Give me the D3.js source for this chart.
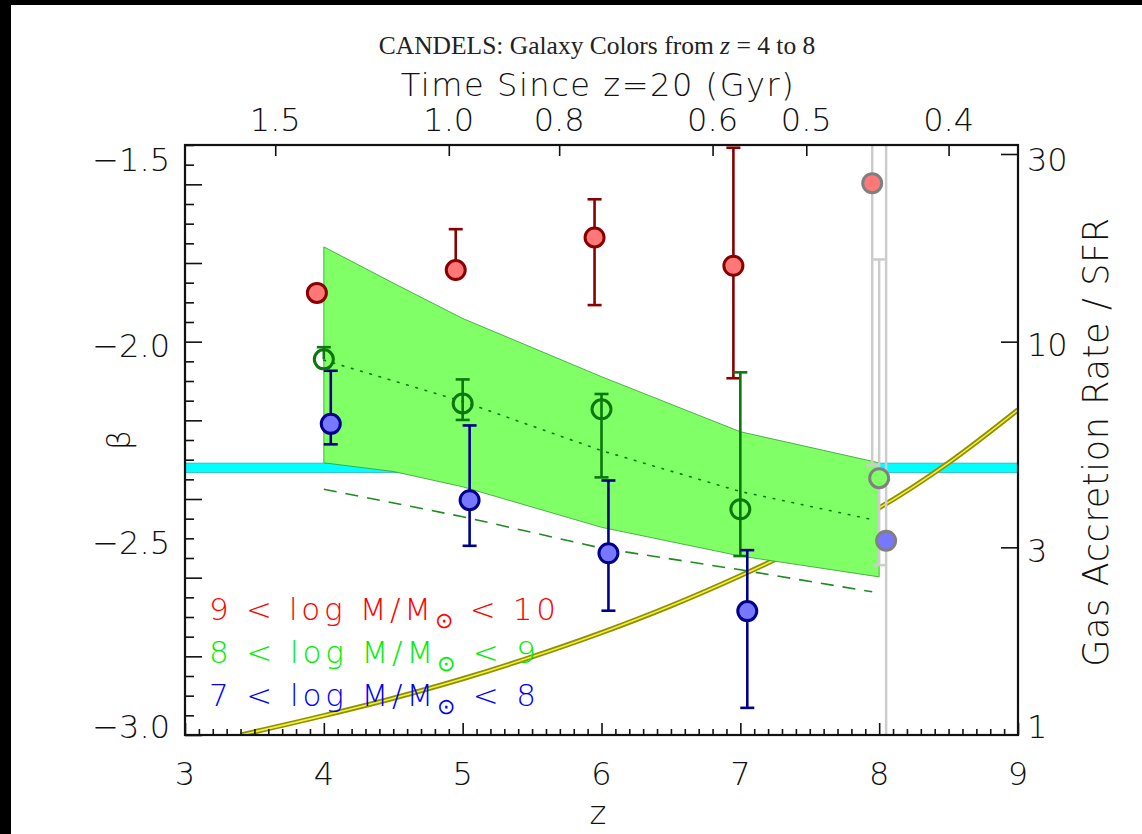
<!DOCTYPE html>
<html>
<head>
<meta charset="utf-8">
<script src="https://cdn.jsdelivr.net/npm/d3@7"></script>
<style>
  html, body { margin: 0; padding: 0; background: #000; }
  svg { display: block; }
  .lbl { font-family: "DejaVu Sans", "Open Sans", sans-serif; font-weight: 200; fill: #111; }
</style>
</head>
<body>
<svg id="chart" width="1142" height="834"></svg>
<script>
// ---- measurements: UV slope beta vs redshift in three stellar-mass bins ----
const zRed   = [3.95, 4.95, 5.95, 6.95];
const betaRed = [-1.876, -1.818, -1.735, -1.807];
const hiRed   = [-1.876, -1.714, -1.638, -1.507];
const loRed   = [-1.876, -1.818, -1.907, -2.093];

const zGreen   = [4.0, 5.0, 6.0, 7.0];
const betaGreen = [-2.045, -2.157, -2.172, -2.426];
const hiGreen   = [-2.014, -2.096, -2.133, -2.078];
const loGreen   = [-2.045, -2.199, -2.345, -2.545];

const zBlue   = [4.05, 5.05, 6.05, 7.05];
const betaBlue = [-2.209, -2.403, -2.538, -2.685];
const hiBlue   = [-2.074, -2.213, -2.353, -2.530];
const loBlue   = [-2.261, -2.519, -2.684, -2.931];

// z ~ 8 points (weakly constrained, grey outlines)
const zHigh    = [7.95, 8.0, 8.05];
const betaHigh = [-1.597, -2.347, -2.506];
const hiHigh   = [-1.30, -1.791, -1.20];
const loHigh   = [-2.314, -2.568, -3.30];

// model envelope (shaded) and model tracks
const bandZ     = [4.0, 4.5, 5.0, 6.0, 7.0, 8.0];
const bandUpper = [-1.759, -1.851, -1.941, -2.089, -2.229, -2.308];
const bandLower = [-2.308, -2.330, -2.369, -2.472, -2.545, -2.598];

const dotZ    = [4.0, 5.0, 6.0, 7.0, 7.96];
const dotBeta = [-2.047, -2.152, -2.277, -2.381, -2.453];

const dashZ    = [4.0, 5.0, 6.0, 7.0, 7.95];
const dashBeta = [-2.375, -2.445, -2.525, -2.580, -2.636];

// horizontal reference band in beta
const cyanBand = [-2.333, -2.309];

// gas accretion rate / SFR (right axis, log)
const accZ     = [3.4, 4.0, 4.5, 5.0, 5.5, 6.0, 6.5, 7.0, 7.5, 8.0, 8.5, 9.0];
const accRatio = [1.0, 1.12, 1.24, 1.39, 1.58, 1.82, 2.13, 2.54, 3.08, 3.78, 4.92, 6.71];

// axis ticks
const zTicks = [3, 4, 5, 6, 7, 8, 9];
const betaLabels = [-3.0, -2.5, -2.0, -1.5];
const accTicks = [1, 3, 10, 30];
const timeLabels = ["1.5", "1.0", "0.8", "0.6", "0.5", "0.4"];
const timeTickZ  = [3.65, 4.90, 5.695, 6.80, 7.475, 8.50];

const legendLabels = [
  { lo: "9", hi: "10", color: "#ff0000", len: 347 },
  { lo: "8", hi: "9",  color: "#00ee00", len: 327 },
  { lo: "7", hi: "8",  color: "#0000ff", len: 327 }
];

// ---- layout ----
const W = 1142, H = 834;
const L = 185, R = 1018, T = 145, B = 735;

const svg = d3.select("#chart");
svg.append("rect").attr("width", W).attr("height", H).attr("fill", "#000");
svg.append("rect").attr("x", 11).attr("y", 5).attr("width", W - 11).attr("height", H - 5).attr("fill", "#fff");

const x  = d3.scaleLinear().domain([3, 9]).range([L, R]);
const y  = d3.scaleLinear().domain([-3.0, -1.5]).range([B, T]);
const yR = d3.scaleLog().domain([1, Math.pow(10, 1.5)]).range([B, T]);

svg.append("clipPath").attr("id", "plotclip")
  .append("rect").attr("x", L).attr("y", T).attr("width", R - L).attr("height", B - T);

const plot = svg.append("g").attr("clip-path", "url(#plotclip)");

// cyan reference band
plot.append("rect")
  .attr("x", x(3)).attr("width", x(9) - x(3))
  .attr("y", y(cyanBand[1])).attr("height", y(cyanBand[0]) - y(cyanBand[1]))
  .attr("fill", "#00ffff").attr("stroke", "#3fb7c4").attr("stroke-width", 1);

// accretion-rate curve: dark olive casing with a yellow core
const accLine = d3.line().x((d, i) => x(accZ[i])).y(d => yR(d)).curve(d3.curveMonotoneX);
plot.append("path").attr("d", accLine(accRatio))
  .attr("fill", "none").attr("stroke", "#8f8f00").attr("stroke-width", 5);
plot.append("path").attr("d", accLine(accRatio))
  .attr("fill", "none").attr("stroke", "#f2f23a").attr("stroke-width", 1.6);

// shaded model envelope
const band = d3.area()
  .x((d, i) => x(bandZ[i]))
  .y0((d, i) => y(bandLower[i]))
  .y1(d => y(d));
plot.append("path").attr("d", band(bandUpper))
  .attr("fill", "#80ff66").attr("stroke", "#2e9e2e").attr("stroke-width", 0.8);

// model tracks
const track = (zs) => d3.line().x((d, i) => x(zs[i])).y(d => y(d));
plot.append("path").attr("d", track(dotZ)(dotBeta))
  .attr("fill", "none").attr("stroke", "#0b7a0b").attr("stroke-width", 1.6)
  .attr("stroke-dasharray", "1.6,8").attr("stroke-linecap", "round");
plot.append("path").attr("d", track(dashZ)(dashBeta))
  .attr("fill", "none").attr("stroke", "#1f8a1f").attr("stroke-width", 1.6)
  .attr("stroke-dasharray", "13,9");

// grey bars for z~8 points
const gGrey = plot.append("g").attr("stroke", "#cccccc").attr("stroke-width", 2.5).attr("fill", "none");
zHigh.forEach((z, i) => {
  const cx = x(z);
  gGrey.append("line").attr("x1", cx).attr("x2", cx).attr("y1", y(hiHigh[i])).attr("y2", y(loHigh[i]));
  [hiHigh[i], loHigh[i]].forEach(v => {
    gGrey.append("line").attr("x1", cx - 6).attr("x2", cx + 6).attr("y1", y(v)).attr("y2", y(v));
  });
});

// coloured bars (caps only where a bar is drawn)
function bars(zs, b, hi, lo, color) {
  const g = plot.append("g").attr("stroke", color).attr("stroke-width", 2.6).attr("fill", "none");
  zs.forEach((z, i) => {
    const cx = x(z);
    const top = hi[i], bot = lo[i];
    if (top === bot) return;
    g.append("line").attr("x1", cx).attr("x2", cx).attr("y1", y(top)).attr("y2", y(bot));
    if (top !== b[i]) g.append("line").attr("x1", cx - 7).attr("x2", cx + 7).attr("y1", y(top)).attr("y2", y(top));
    if (bot !== b[i]) g.append("line").attr("x1", cx - 7).attr("x2", cx + 7).attr("y1", y(bot)).attr("y2", y(bot));
  });
}
bars(zRed, betaRed, hiRed, loRed, "#880000");
bars(zGreen, betaGreen, hiGreen, loGreen, "#0a780a");
bars(zBlue, betaBlue, hiBlue, loBlue, "#00008a");

function markers(zs, b, fill, stroke) {
  plot.append("g").selectAll("circle").data(b).join("circle")
    .attr("cx", (d, i) => x(zs[i])).attr("cy", d => y(d)).attr("r", 9.5)
    .attr("fill", fill).attr("stroke", stroke).attr("stroke-width", 3);
}
markers(zRed, betaRed, "#ff7777", "#880000");
markers(zGreen, betaGreen, "none", "#0a780a");
markers(zBlue, betaBlue, "#7777ff", "#00008a");

const highFill = ["#ff7777", "#80ff66", "#7777ff"];
plot.append("g").selectAll("circle").data(betaHigh).join("circle")
  .attr("cx", (d, i) => x(zHigh[i])).attr("cy", d => y(d)).attr("r", 9.5)
  .attr("fill", (d, i) => highFill[i]).attr("stroke", "#808080").attr("stroke-width", 3);

// ---- axes ----
const axisColor = "#111";
function styleAxis(g) {
  g.select(".domain").remove();
  g.selectAll(".tick line").attr("stroke", axisColor).attr("stroke-width", 1.6);
  g.selectAll(".tick text").remove();
}
const zMinor = d3.range(30, 91).map(v => v / 10).filter(v => !zTicks.includes(v));
svg.append("g").attr("transform", `translate(0,${B})`)
  .call(d3.axisBottom(x).tickValues(zMinor).tickSize(-6)).call(styleAxis);
svg.append("g").attr("transform", `translate(0,${B})`)
  .call(d3.axisBottom(x).tickValues(zTicks).tickSize(-12)).call(styleAxis);

svg.append("g").attr("transform", `translate(0,${T})`)
  .call(d3.axisTop(x).tickValues(timeTickZ).tickSize(-11)).call(styleAxis);

const betaMinor = d3.range(0, 31).map(i => -3 + i * 0.05).filter((v, i) => i % 4 !== 0);
const betaMajor = d3.range(0, 8).map(i => -3 + i * 0.2);
svg.append("g").attr("transform", `translate(${L},0)`)
  .call(d3.axisLeft(y).tickValues(betaMinor).tickSize(-9)).call(styleAxis);
svg.append("g").attr("transform", `translate(${L},0)`)
  .call(d3.axisLeft(y).tickValues(betaMajor).tickSize(-17)).call(styleAxis);

svg.append("g").attr("transform", `translate(${R},0)`)
  .call(d3.axisRight(yR).tickValues(accTicks.slice(1)).tickSize(-17)).call(styleAxis);

// frame
svg.append("rect").attr("x", L).attr("y", T).attr("width", R - L).attr("height", B - T)
  .attr("fill", "none").attr("stroke", axisColor).attr("stroke-width", 2.2);

// ---- labels ----
const fs = 32;
const capShift = fs * 0.36;
const clampY = v => Math.max(T + 14, Math.min(B - 9, v));

// stretch a text's letter spacing so it spans the given width
function fitWidth(sel, target) {
  const n = sel.text().length;
  const w = sel.node().getBBox().width;
  sel.attr("letter-spacing", ((target - w) / Math.max(1, n - 1)).toFixed(2));
}

svg.append("g").selectAll("text").data(zTicks).join("text")
  .attr("class", "lbl").attr("font-size", fs).attr("text-anchor", "middle")
  .attr("x", d => x(d)).attr("y", 785).text(d => d);

svg.append("g").selectAll("text").data(betaLabels).join("text")
  .attr("class", "lbl").attr("font-size", fs).attr("text-anchor", "end")
  .attr("x", 170).attr("y", d => clampY(y(d) + 4) + capShift)
  .text(d => "\u2212" + Math.abs(d).toFixed(1));

svg.append("g").selectAll("text").data(accTicks).join("text")
  .attr("class", "lbl").attr("font-size", fs).attr("text-anchor", "start")
  .attr("x", 1027).attr("y", d => clampY(yR(d) + 3) + capShift)
  .text(d => d);

svg.append("g").selectAll("text").data(timeLabels).join("text")
  .attr("class", "lbl").attr("font-size", fs).attr("text-anchor", "middle")
  .attr("x", (d, i) => x(timeTickZ[i])).attr("y", 131).text(d => d);

const timeTitle = svg.append("text").attr("class", "lbl").attr("font-size", fs).attr("text-anchor", "middle")
  .attr("x", 598).attr("y", 96).text("Time Since z=20 (Gyr)");
fitWidth(timeTitle, 393);

svg.append("text").attr("class", "lbl").attr("font-size", fs).attr("text-anchor", "middle")
  .attr("x", 598).attr("y", 824).text("z");

svg.append("text").attr("class", "lbl").attr("font-size", fs).attr("text-anchor", "middle")
  .attr("transform", "translate(130,440) rotate(-90)").text("\u03B2");

const rightTitle = svg.append("text").attr("class", "lbl").attr("font-size", 35).attr("text-anchor", "middle")
  .attr("transform", "translate(1108,442) rotate(-90)").text("Gas Accretion Rate / SFR");
fitWidth(rightTitle, 449);

// title
const title = svg.append("text").attr("x", 597).attr("y", 54).attr("text-anchor", "middle")
  .attr("font-family", "Liberation Serif, Times New Roman, serif").attr("font-size", 25.5).attr("fill", "#222");
title.append("tspan").text("CANDELS: Galaxy Colors from ");
title.append("tspan").attr("font-style", "italic").text("z");
title.append("tspan").text(" = 4 to 8");

// legend
const legendBase = [620, 663, 706];
legendLabels.forEach((d, i) => {
  const t = svg.append("text").attr("class", "lbl").attr("font-size", 31)
    .attr("x", 209).attr("y", legendBase[i]).style("fill", d.color);
  t.append("tspan").text(`${d.lo} < log M/M`);
  t.append("tspan").attr("font-size", 22).attr("dy", 8).text("\u2299");
  t.append("tspan").attr("dy", -8).text(` < ${d.hi}`);
  fitWidth(t, d.len);
});
</script>
</body>
</html>
